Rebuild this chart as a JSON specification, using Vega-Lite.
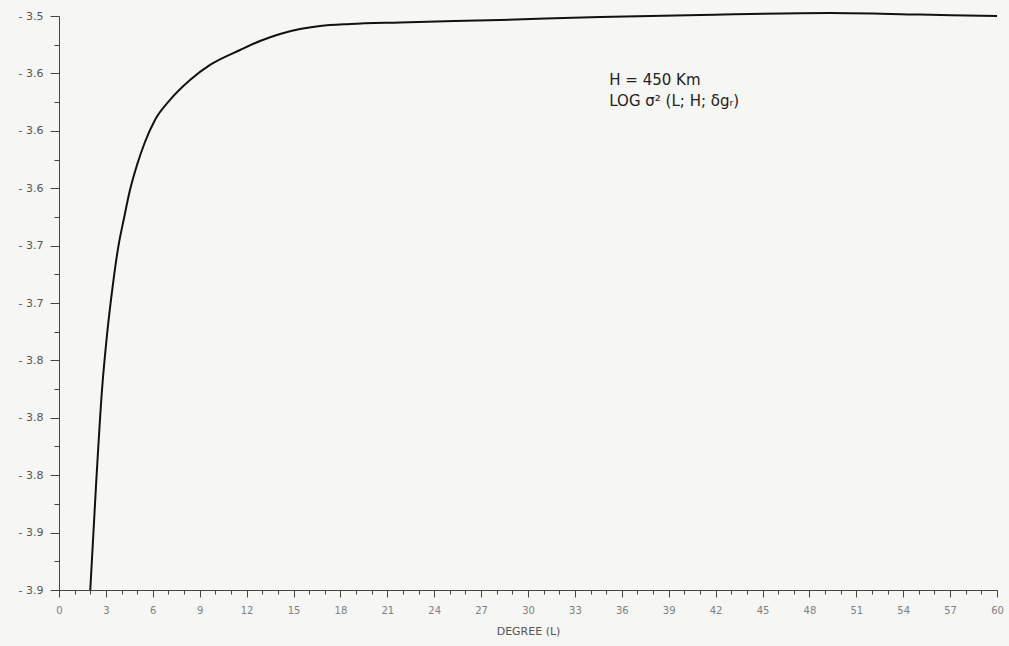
{
  "$schema": "https://vega.github.io/schema/vega-lite/v6.json",
  "width": 938,
  "height": 574,
  "autosize": {"type": "none"},
  "padding": {"left": 59, "top": 16, "right": 12, "bottom": 56},
  "background": "#f6f6f4",
  "config": {
    "view": {"stroke": null},
    "font": "DejaVu Sans",
    "axis": {"grid": false, "domainColor": "#444", "tickColor": "#444", "labelFont": "DejaVu Sans", "titleFont": "DejaVu Sans"}
  },
  "datasets": {
    "curve": [
      {"L": 2.0, "v": -3.92},
      {"L": 2.37, "v": -3.8468},
      {"L": 2.75, "v": -3.7806},
      {"L": 3.07, "v": -3.7423},
      {"L": 3.46, "v": -3.7061},
      {"L": 3.78, "v": -3.6817},
      {"L": 4.16, "v": -3.6608},
      {"L": 4.54, "v": -3.6413},
      {"L": 4.99, "v": -3.6238},
      {"L": 5.5, "v": -3.6078},
      {"L": 6.14, "v": -3.5925},
      {"L": 7.1, "v": -3.5785},
      {"L": 8.38, "v": -3.5646},
      {"L": 9.66, "v": -3.5541},
      {"L": 11.58, "v": -3.5437},
      {"L": 12.86, "v": -3.5374},
      {"L": 14.14, "v": -3.5325},
      {"L": 15.42, "v": -3.5291},
      {"L": 16.7, "v": -3.527},
      {"L": 18.62, "v": -3.5256},
      {"L": 21.82, "v": -3.5245},
      {"L": 28.21, "v": -3.5228},
      {"L": 34.61, "v": -3.5207},
      {"L": 41.01, "v": -3.5193},
      {"L": 49.33, "v": -3.5179},
      {"L": 55.09, "v": -3.519},
      {"L": 60.0, "v": -3.52}
    ],
    "notes": [
      {"L": 35.2, "v": -3.5646, "label": "H = 450 Km"},
      {"L": 35.2, "v": -3.5792, "label": "LOG σ² (L; H; δgᵣ)"}
    ]
  },
  "resolve": {"axis": {"x": "independent", "y": "independent"}},
  "layer": [
    {
      "data": {"name": "curve"},
      "mark": {"type": "line", "color": "#111", "strokeWidth": 2, "interpolate": "monotone", "clip": false},
      "encoding": {
        "x": {
          "field": "L", "type": "quantitative",
          "scale": {"domain": [0, 60], "nice": false, "zero": false},
          "axis": {
            "orient": "bottom",
            "values": [0,3,6,9,12,15,18,21,24,27,30,33,36,39,42,45,48,51,54,57,60],
            "tickSize": 7, "labelPadding": 8, "labelFontSize": 10, "labelColor": "#808080",
            "labelFlush": false,
            "title": "DEGREE (L)", "titleFontSize": 11, "titleFontWeight": "normal", "titleColor": "#555", "titlePadding": 10
          }
        },
        "y": {
          "field": "v", "type": "quantitative",
          "scale": {"domain": [-3.92, -3.52], "nice": false, "zero": false},
          "axis": {
            "orient": "left",
            "values": [-3.52,-3.56,-3.6,-3.64,-3.68,-3.72,-3.76,-3.8,-3.84,-3.88,-3.92],
            "labelExpr": "'- ' + format(abs(datum.value), '.1f')",
            "tickSize": 9, "labelPadding": 7, "labelFontSize": 11, "labelColor": "#555",
            "labelFlush": false,
            "title": null
          }
        }
      }
    },
    {
      "data": {"name": "curve"},
      "mark": {"type": "point", "opacity": 0},
      "encoding": {
        "x": {
          "field": "L", "type": "quantitative",
          "axis": {
            "orient": "bottom",
            "values": [0,1,2,3,4,5,6,7,8,9,10,11,12,13,14,15,16,17,18,19,20,21,22,23,24,25,26,27,28,29,30,31,32,33,34,35,36,37,38,39,40,41,42,43,44,45,46,47,48,49,50,51,52,53,54,55,56,57,58,59,60],
            "tickSize": 4, "labels": false, "domain": false, "title": null
          }
        },
        "y": {
          "field": "v", "type": "quantitative",
          "axis": {
            "orient": "left",
            "values": [-3.54,-3.58,-3.62,-3.66,-3.7,-3.74,-3.78,-3.82,-3.86,-3.9],
            "tickSize": 5, "labels": false, "domain": false, "title": null
          }
        }
      }
    },
    {
      "data": {"name": "notes"},
      "mark": {"type": "text", "align": "left", "baseline": "middle", "fontSize": 15, "color": "#222", "font": "DejaVu Sans"},
      "encoding": {
        "x": {"field": "L", "type": "quantitative", "axis": null},
        "y": {"field": "v", "type": "quantitative", "axis": null},
        "text": {"field": "label"}
      }
    }
  ]
}
